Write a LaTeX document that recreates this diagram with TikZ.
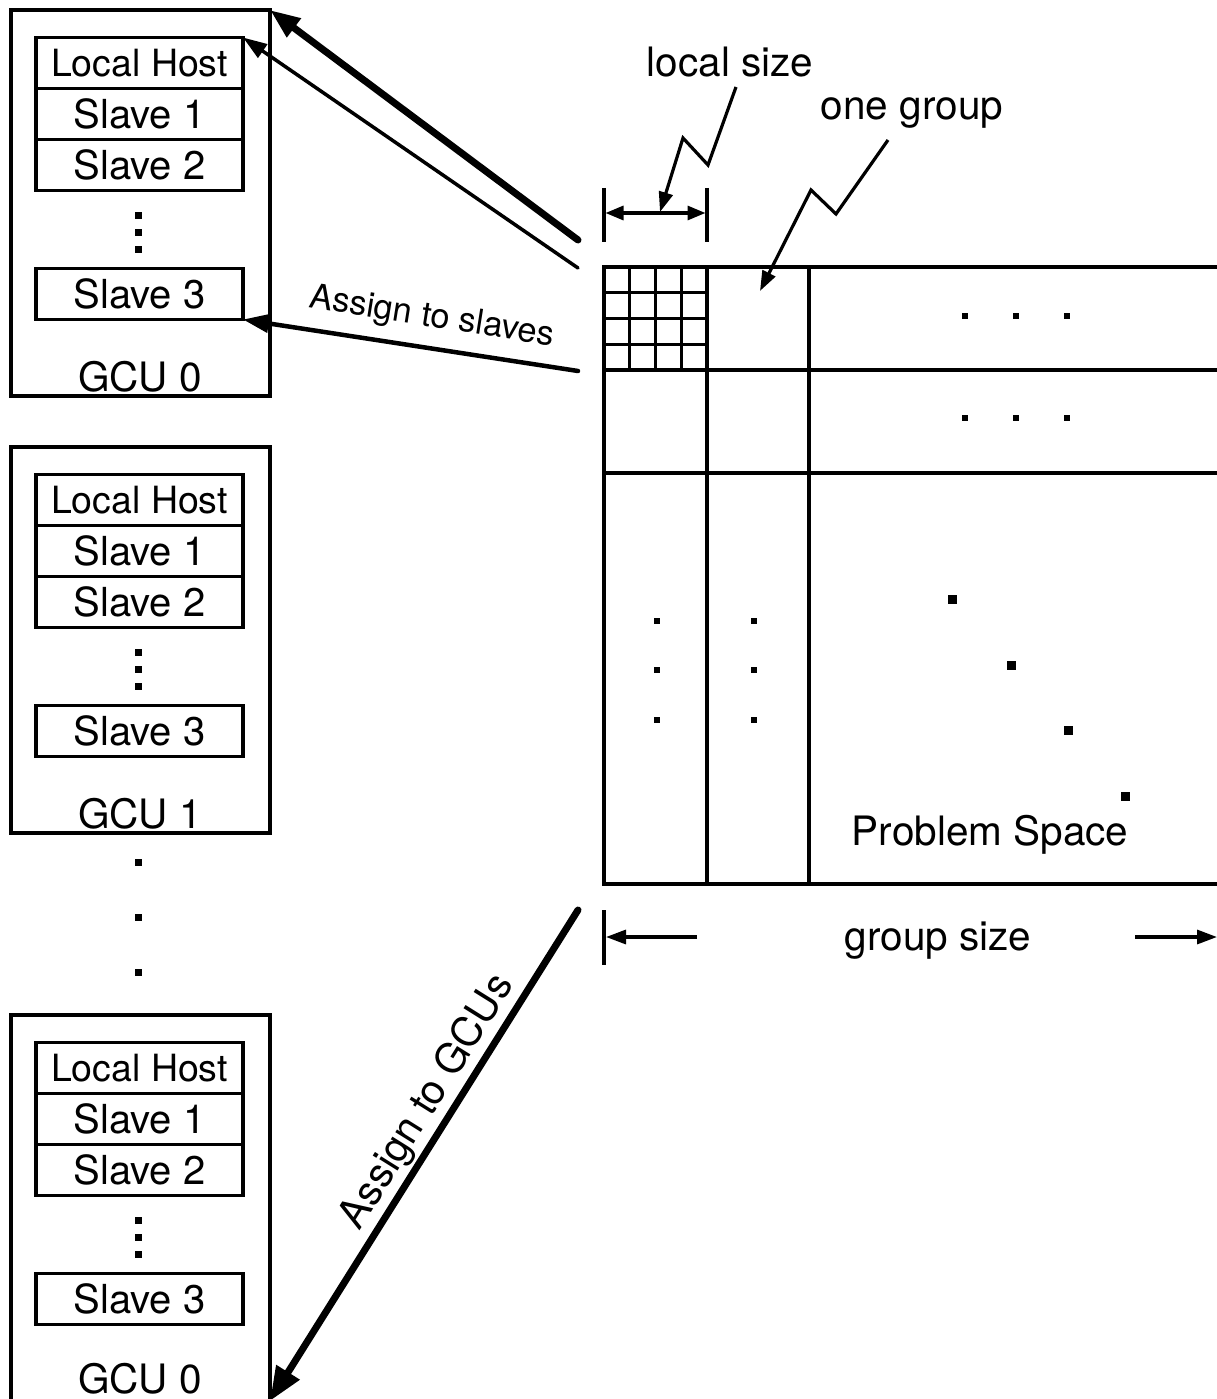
\documentclass[tikz,border=0pt]{standalone}
\usepackage{fontspec}
\setmainfont{TeX Gyre Heros}
\usetikzlibrary{arrows.meta, positioning}

\tikzset{
  box/.style={draw, rectangle, line width=3.5pt, outer sep=0pt, inner sep=0pt,
    minimum width=207pt, minimum height=51pt, font=\fontsize{40}{48}\selectfont},
  host/.style={box, font=\fontsize{37.5}{45}\selectfont},
  gcu/.style={draw, rectangle, line width=3.5pt, outer sep=0pt,
    minimum width=259pt, minimum height=386pt},
  lbl/.style={inner sep=0pt, font=\fontsize{40.5}{48}\selectfont},
  dot/.style={fill=black, inner sep=0pt, minimum size=6pt},
  bigdot/.style={fill=black, inner sep=0pt, minimum size=9pt},
  vdot/.style={fill=black, inner sep=0pt, minimum size=7pt},
  tip/.style={-{Triangle[length=20pt,width=14pt]}},
}

\begin{document}
\begin{tikzpicture}[x=1pt, y=-1pt, line width=3.2pt]
  \useasboundingbox (0,0) rectangle (1217,1399);

  % GCU 0 (top)
  \node[gcu] (gcuA) at (140.5,203) {};
  \node[host] (hostA) at (139.5,63) {Local Host};
  \node[box, below=0pt of hostA] (slaveAa) {Slave 1};
  \node[box, below=0pt of slaveAa] (slaveAb) {Slave 2};
  \node[box] (slaveAc) at (139.5,294) {Slave 3};
  \node[lbl, anchor=base] (labA) at (140,391) {GCU 0};

  % GCU 1
  \node[gcu] (gcuB) at (140.5,640) {};
  \node[host] (hostB) at (139.5,500) {Local Host};
  \node[box, below=0pt of hostB] (slaveBa) {Slave 1};
  \node[box, below=0pt of slaveBa] (slaveBb) {Slave 2};
  \node[box] (slaveBc) at (139.5,731) {Slave 3};
  \node[lbl, anchor=base] (labB) at (140,828) {GCU 1};

  % GCU 0 (bottom)
  \node[gcu] (gcuC) at (140.5,1208) {};
  \node[host] (hostC) at (139.5,1068) {Local Host};
  \node[box, below=0pt of hostC] (slaveCa) {Slave 1};
  \node[box, below=0pt of slaveCa] (slaveCb) {Slave 2};
  \node[box] (slaveCc) at (139.5,1299) {Slave 3};
  \node[lbl, anchor=base] (labC) at (140,1393) {GCU 0};

  \foreach \y in {215,232,249,652,669,686,1220,1237,1254,862,917,972}
    \node[vdot] at (138,\y) {};

  % problem space
  \draw (1217,267) -- (604,267) -- (604,884) -- (1217,884);
  \draw (604,370) -- (1217,370);
  \draw (604,473) -- (1217,473);
  \draw (707,267) -- (707,884);
  \draw (809,267) -- (809,884);
  \foreach \i in {1,2,3} {
    \draw (604+25.75*\i,267) -- (604+25.75*\i,370);
    \draw (604,267+25.75*\i) -- (707,267+25.75*\i);
  }
  \foreach \x in {965,1016,1067} {
    \node[dot] at (\x,316) {};
    \node[dot] at (\x,418) {};
  }
  \foreach \y in {621,670,720} {
    \node[dot] at (657,\y) {};
    \node[dot] at (754,\y) {};
  }
  \foreach \x/\y in {952/599,1011/665,1068/730,1125/796}
    \node[bigdot] at (\x,\y) {};
  \node[lbl, anchor=base] (space) at (990,845) {Problem Space};

  % local size
  \node[lbl, anchor=base] (lsize) at (730,77) {local size};
  \draw (604,188) -- (604,242);
  \draw (707,188) -- (707,242);
  \coordinate (lsL) at (605.5,213);
  \coordinate (lsR) at (705.5,213);
  \draw[{Triangle[length=18pt,width=14pt]}-{Triangle[length=18pt,width=14pt]}] (lsL) -- (lsR);
  \draw[tip] (736,87) -- (708,165) -- (683,138) -- (660,212);

  % one group
  \node[lbl, anchor=base] (onegroup) at (912,120) {one group};
  \draw[tip] (888,140) -- (836,214) -- (811,190) -- (760,291);

  % group size
  \node[lbl, anchor=base] (gsize) at (938,950) {group size};
  \draw (604,910) -- (604,965);
  \coordinate (gsL) at (606,937);
  \coordinate (gsR) at (1217,937);
  \draw[tip] (697,937) -- (gsL);
  \draw[tip] (1135,937) -- (gsR);

  % assignments
  \coordinate (fromTop) at (578,240);
  \coordinate (fromHost) at (578,268);
  \coordinate (fromSlave) at (578,371);
  \coordinate (fromGcu) at (578,910);
  \draw[-{Triangle[length=30pt,width=22pt]}, line width=7pt, line cap=round] (fromTop) -- (gcuA.north east);
  \draw[-{Triangle[length=24pt,width=16pt]}, line width=3.5pt, line cap=round] (fromHost) -- (hostA.north east);
  \draw[-{Triangle[length=26pt,width=18pt]}, line width=4.5pt, line cap=round] (fromSlave) -- (slaveAc.south east);
  \node[inner sep=0pt, rotate=-9, font=\fontsize{34.5}{40}\selectfont] (toslaves) at (432,318) {Assign to slaves};
  \draw[-{Triangle[length=34pt,width=26pt]}, line width=7pt, line cap=round] (fromGcu) -- (gcuC.south east);
  \node[inner sep=0pt, anchor=base, rotate=58, font=\fontsize{41}{48}\selectfont] (togcus) at (437,1108) {Assign to GCUs};
\end{tikzpicture}
\end{document}
